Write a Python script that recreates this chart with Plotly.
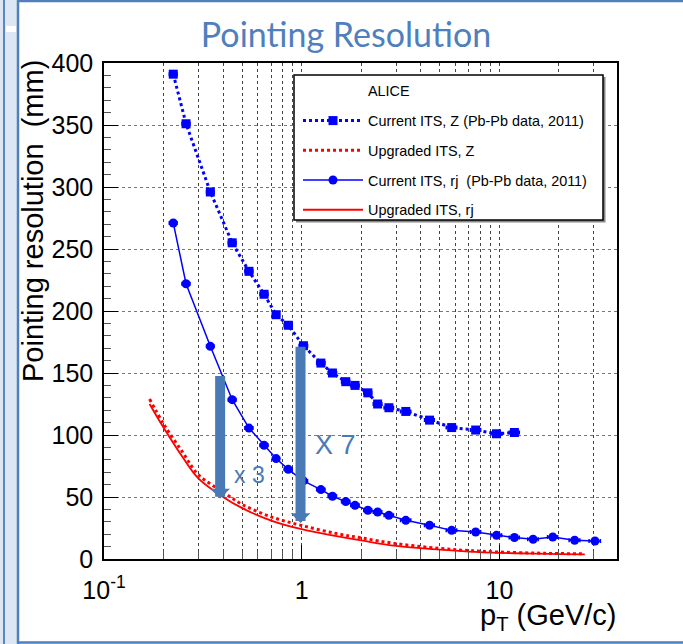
import math
import plotly.graph_objects as go

# ---------------- data ----------------
z_pt = [0.224, 0.260, 0.345, 0.445, 0.541, 0.645, 0.742, 0.855, 1.02, 1.25, 1.43,
        1.67, 1.86, 2.16, 2.42, 2.76, 3.36, 4.43, 5.73, 7.58, 9.66, 11.9]
z_res = [391, 351, 296, 255, 232, 213.5, 197, 188.5, 172, 158, 150,
         143, 140, 134, 125, 122, 119, 112, 106, 104, 101, 102]

rphi_pt = [0.224, 0.260, 0.345, 0.445, 0.541, 0.645, 0.742, 0.855, 1.02, 1.25, 1.43,
           1.67, 1.86, 2.16, 2.42, 2.76, 3.36, 4.43, 5.73, 7.58, 9.66, 11.9,
           14.8, 18.6, 24.0, 30.4]
rphi_res = [271, 222, 171.5, 128.5, 105.6, 91.7, 81, 72.3, 63, 56, 50.6,
            46.3, 43.3, 39.3, 37.9, 35.2, 31.2, 27.2, 23.1, 21.8, 19.1, 17.3,
            15.9, 17.7, 15.1, 14.5]
# half bin widths (horizontal error bars)
rphi_pt_err = [0.01, 0.012, 0.015, 0.02, 0.025, 0.03, 0.03, 0.04, 0.05, 0.06, 0.07,
               0.08, 0.09, 0.1, 0.12, 0.15, 0.2, 0.25, 0.35, 0.45, 0.6, 0.7,
               0.9, 1.1, 1.5, 2.0]
z_pt_err = rphi_pt_err[:len(z_pt)]

up_pt = [0.17, 0.2, 0.25, 0.3, 0.4, 0.5, 0.7, 1.0, 1.5, 2.0, 3.0, 5.0, 7.0, 10.0, 15.0, 20.0, 27.0]
up_rphi = [125, 106, 82, 65, 50, 41, 31, 24, 18.5, 15, 10.5, 7.5, 6.0, 5.0, 4.3, 4.0, 3.8]
up_z = [129, 109, 86, 68, 54, 44, 34, 27, 20.5, 17, 12.4, 8.5, 6.8, 5.6, 4.8, 4.4, 4.2]

names = ["ALICE", "Current ITS, Z (Pb-Pb data, 2011)", "Upgraded ITS, Z",
         "Current ITS, rj  (Pb-Pb data, 2011)", "Upgraded ITS, rj"]

x_major = [0.1, 1, 10]
x_major_text = ["10<sup>-1</sup>", "1", "10"]
x_minor = [0.2, 0.3, 0.4, 0.5, 0.6, 0.7, 0.8, 0.9, 2, 3, 4, 5, 6, 7, 8, 9, 20, 30]

# arrows: (pt, from, to)
arrows = [(0.3867, 148.7, 48.7), (0.986, 172.3, 29.0)]
arrow_labels = [("x 3", 0.542, 67.5, 23), ("X 7", 1.49, 92, 27)]

# ---------------- layout helpers ----------------
W_FIG, H_FIG = 683, 644
L, R, T, B = 104, 617, 63, 559
PW, PH = R - L, B - T

def xp(p):
    return (p - L) / PW

def yp(p):
    return (B - p) / PH

BLUE = "#0000ff"
RED = "#ff0000"
STEEL = "#4a7ab6"
FONT = "Liberation Sans"

fig = go.Figure()

fig.add_trace(go.Scatter(x=[None], y=[None], mode="lines", line=dict(width=0, color="white"),
                         name=names[0], legendgroup="g0"))
fig.add_trace(go.Scatter(x=z_pt, y=z_res, mode="lines+markers", name=names[1], legendgroup="g1",
                         line=dict(color=BLUE, width=3, dash="dot"),
                         error_x=dict(type="data", array=z_pt_err, color=BLUE, thickness=1.5, width=2),
                         marker=dict(symbol="square", size=9, color=BLUE)))
fig.add_trace(go.Scatter(x=up_pt, y=up_z, mode="lines", name=names[2], legendgroup="g2",
                         line=dict(color=RED, width=3, dash="dot", shape="spline")))
fig.add_trace(go.Scatter(x=rphi_pt, y=rphi_res, mode="lines+markers", name=names[3], legendgroup="g3",
                         line=dict(color=BLUE, width=1.5),
                         error_x=dict(type="data", array=rphi_pt_err, color=BLUE, thickness=1.5, width=2),
                         marker=dict(symbol="circle", size=9, color=BLUE)))
fig.add_trace(go.Scatter(x=up_pt, y=up_rphi, mode="lines", name=names[4], legendgroup="g4",
                         line=dict(color=RED, width=1.8, shape="spline")))

shapes = []
# slide frame decorations
shapes.append(dict(type="rect", xref="paper", yref="paper", x0=xp(0), x1=xp(18), y0=yp(0), y1=yp(644),
                   fillcolor="#dde7f4", line=dict(width=0), layer="above"))
shapes.append(dict(type="rect", xref="paper", yref="paper", x0=xp(6), x1=xp(16), y0=yp(26), y1=yp(32),
                   fillcolor="white", line=dict(width=0), layer="above"))
shapes.append(dict(type="line", xref="paper", yref="paper", x0=xp(4), x1=xp(4), y0=yp(0), y1=yp(644),
                   line=dict(color="#5b86c0", width=2), layer="above"))
shapes.append(dict(type="line", xref="paper", yref="paper", x0=xp(18), x1=xp(18), y0=yp(0), y1=yp(644),
                   line=dict(color="#4f7fbd", width=2.5), layer="above"))
shapes.append(dict(type="line", xref="paper", yref="paper", x0=xp(18), x1=xp(683), y0=yp(1), y1=yp(1),
                   line=dict(color="#4f7fbd", width=2.5), layer="above"))
shapes.append(dict(type="line", xref="paper", yref="paper", x0=xp(18), x1=xp(683), y0=yp(642.5), y1=yp(642.5),
                   line=dict(color="#4f7fbd", width=2.5), layer="above"))
# legend box with shadow
shapes.append(dict(type="rect", xref="paper", yref="paper", x0=xp(296), x1=xp(605.5), y0=yp(222.5), y1=yp(77),
                   fillcolor="#888888", line=dict(width=0), layer="above"))
shapes.append(dict(type="rect", xref="paper", yref="paper", x0=xp(294), x1=xp(603), y0=yp(220), y1=yp(75),
                   fillcolor="white", line=dict(color="black", width=1.5), layer="above"))

annotations = []
for (pt, y0, y1) in arrows:
    annotations.append(dict(x=math.log10(pt), y=y1, ax=math.log10(pt), ay=y0, xref="x", yref="y",
                            axref="x", ayref="y", text="", showarrow=True, arrowhead=1,
                            arrowwidth=10, arrowsize=0.33, arrowcolor=STEEL, standoff=0))
for (txt, pt, yv, sz) in arrow_labels:
    annotations.append(dict(x=math.log10(pt), y=yv, xref="x", yref="y", text=txt, showarrow=False,
                            font=dict(family=FONT, size=sz, color=STEEL)))
annotations.append(dict(x=xp(33), y=yp(221), xref="paper", yref="paper",
                        text="Pointing resolution  (mm)", textangle=-90, showarrow=False,
                        xanchor="center", yanchor="middle",
                        font=dict(family=FONT, size=29, color="black")))
annotations.append(dict(x=xp(619), y=yp(617), xref="paper", yref="paper", text="p<sub>T</sub> (GeV/c)",
                        showarrow=False, xanchor="right", yanchor="middle",
                        font=dict(family=FONT, size=29, color="black")))

fig.update_layout(
    width=W_FIG, height=H_FIG,
    margin=dict(l=L, r=W_FIG - R, t=T, b=H_FIG - B, autoexpand=False),
    paper_bgcolor="white", plot_bgcolor="white",
    title=dict(text="Pointing Resolution", x=346 / W_FIG, xanchor="center", y=1 - 35 / H_FIG,
               yanchor="middle", yref="container",
               font=dict(family="Lato", size=34, color="#4f7fbd")),
    showlegend=True,
    legend=dict(x=xp(298), y=yp(75), xanchor="left", yanchor="top", bgcolor="rgba(0,0,0,0)",
                borderwidth=0, itemwidth=60, tracegroupgap=8,
                font=dict(family=FONT, size=14.4, color="black")),
    shapes=shapes, annotations=annotations,
)

fig.update_xaxes(type="log", range=[-1, math.log10(39.3)],
                 tickmode="array", tickvals=x_major, ticktext=x_major_text,
                 ticks="inside", ticklen=14, tickcolor="black", tickwidth=1,
                 showline=True, linecolor="black", linewidth=1.5, mirror=True,
                 showgrid=True, gridcolor="#444444", griddash="dot", gridwidth=1,
                 tickfont=dict(family=FONT, size=25, color="black"), ticklabelstandoff=8,
                 minor=dict(tickmode="array", tickvals=x_minor, ticks="inside", ticklen=8,
                            tickcolor="#555555", showgrid=True, gridcolor="#444444",
                            griddash="dot", gridwidth=1),
                 zeroline=False)
fig.update_yaxes(range=[0, 400], tickmode="linear", tick0=0, dtick=50,
                 ticks="inside", ticklen=14, tickcolor="black", tickwidth=1,
                 showline=True, linecolor="black", linewidth=1.5, mirror=True,
                 showgrid=True, gridcolor="#777777", griddash="dot", gridwidth=1.3,
                 tickfont=dict(family=FONT, size=25, color="black"), ticklabelstandoff=4,
                 minor=dict(dtick=10, ticks="inside", ticklen=7, tickcolor="#555555", showgrid=False),
                 zeroline=False)

fig.write_html("out.html", config={"displayModeBar": False},
               post_script="document.body.style.margin='0';")
